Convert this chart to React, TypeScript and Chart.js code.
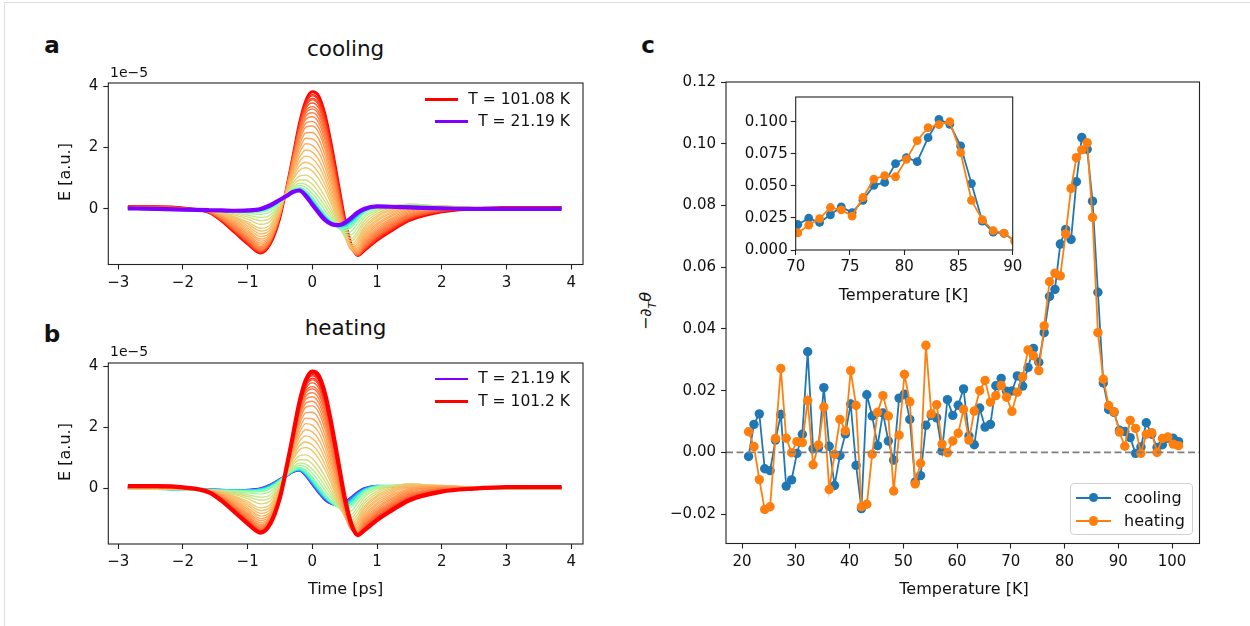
import React, { useEffect, useRef } from "react";
import { Chart, registerables } from "chart.js";

Chart.register(...registerables);

// ---------------- data: panels a / b (waveforms, E in units of 1e-5) ----------------
const WAVE_T = [-2.85, -2.4, -2.0, -1.6, -1.4, -1.2, -1.0, -0.8, -0.65, -0.5, -0.4, -0.3, -0.2, -0.1, 0.0, 0.1, 0.2, 0.3, 0.4, 0.5, 0.6, 0.7, 0.8, 1.0, 1.2, 1.5, 2.0, 2.5, 3.0, 3.4, 3.85];

const E_021 = [0.02, 0.0, -0.02, -0.04, -0.05, -0.06, -0.05, 0.0, 0.12, 0.3, 0.42, 0.55, 0.6, 0.42, 0.14, -0.13, -0.37, -0.5, -0.53, -0.45, -0.29, -0.12, 0.0, 0.08, 0.07, 0.05, 0.02, 0.0, 0.0, 0.0, 0.0];
const E_028 = [0.02, 0.0, -0.02, -0.04, -0.05, -0.06, -0.05, -0.01, 0.11, 0.3, 0.42, 0.55, 0.6, 0.43, 0.16, -0.11, -0.35, -0.49, -0.54, -0.47, -0.31, -0.14, -0.01, 0.08, 0.07, 0.05, 0.02, 0.0, 0.0, 0.0, 0.0];
const E_035 = [0.02, 0.0, -0.02, -0.04, -0.05, -0.06, -0.06, -0.02, 0.1, 0.29, 0.42, 0.56, 0.61, 0.45, 0.18, -0.09, -0.33, -0.48, -0.54, -0.49, -0.34, -0.16, -0.03, 0.08, 0.07, 0.06, 0.02, 0.0, 0.0, 0.0, 0.0];
const E_042 = [0.01, -0.01, -0.02, -0.04, -0.05, -0.06, -0.07, -0.03, 0.08, 0.28, 0.42, 0.57, 0.62, 0.48, 0.22, -0.06, -0.3, -0.47, -0.55, -0.52, -0.38, -0.19, -0.04, 0.08, 0.08, 0.07, 0.02, 0.0, 0.0, 0.0, 0.0];
const E_050 = [0.01, -0.01, -0.02, -0.04, -0.06, -0.07, -0.07, -0.04, 0.06, 0.27, 0.43, 0.58, 0.64, 0.5, 0.25, -0.03, -0.28, -0.46, -0.57, -0.55, -0.42, -0.22, -0.06, 0.07, 0.08, 0.07, 0.03, 0.0, 0.0, 0.0, 0.0];
const E_058 = [0.0, -0.01, -0.03, -0.05, -0.07, -0.08, -0.09, -0.07, 0.03, 0.25, 0.44, 0.6, 0.67, 0.55, 0.32, 0.04, -0.23, -0.44, -0.6, -0.63, -0.51, -0.3, -0.1, 0.06, 0.09, 0.09, 0.04, 0.01, 0.0, 0.0, 0.0];
const E_065 = [0.0, -0.01, -0.03, -0.05, -0.07, -0.09, -0.1, -0.1, 0.0, 0.24, 0.45, 0.62, 0.7, 0.6, 0.38, 0.1, -0.18, -0.42, -0.62, -0.7, -0.6, -0.37, -0.14, 0.05, 0.09, 0.1, 0.04, 0.01, 0.0, 0.0, 0.0];
const E_068 = [0.0, -0.01, -0.03, -0.05, -0.07, -0.1, -0.14, -0.18, -0.09, 0.21, 0.46, 0.66, 0.76, 0.7, 0.5, 0.24, -0.06, -0.33, -0.6, -0.77, -0.73, -0.48, -0.22, 0.02, 0.09, 0.12, 0.05, 0.01, 0.0, 0.0, 0.0];
const E_072 = [0.0, -0.01, -0.03, -0.05, -0.08, -0.13, -0.2, -0.28, -0.2, 0.18, 0.47, 0.7, 0.83, 0.8, 0.63, 0.38, 0.07, -0.25, -0.58, -0.82, -0.85, -0.6, -0.3, -0.02, 0.08, 0.14, 0.06, 0.01, 0.0, 0.0, 0.0];
const E_074 = [0.0, -0.01, -0.02, -0.05, -0.09, -0.16, -0.26, -0.38, -0.3, 0.14, 0.48, 0.77, 0.94, 0.94, 0.8, 0.54, 0.22, -0.15, -0.53, -0.85, -0.96, -0.73, -0.4, -0.08, 0.06, 0.15, 0.07, 0.01, 0.0, 0.0, 0.0];
const E_076 = [0.0, 0.0, -0.02, -0.05, -0.1, -0.2, -0.33, -0.5, -0.4, 0.1, 0.5, 0.85, 1.07, 1.1, 0.98, 0.72, 0.38, -0.03, -0.48, -0.88, -1.05, -0.85, -0.5, -0.15, 0.03, 0.15, 0.08, 0.02, 0.0, 0.0, 0.0];
const E_078 = [0.0, 0.0, -0.01, -0.05, -0.12, -0.25, -0.42, -0.63, -0.52, 0.06, 0.52, 0.94, 1.26, 1.34, 1.23, 0.97, 0.6, 0.12, -0.41, -0.9, -1.14, -0.96, -0.6, -0.22, -0.02, 0.13, 0.09, 0.03, 0.01, 0.0, 0.0];
const E_079 = [0.01, 0.0, -0.01, -0.05, -0.13, -0.28, -0.48, -0.72, -0.6, 0.03, 0.53, 1.0, 1.4, 1.52, 1.42, 1.17, 0.76, 0.24, -0.35, -0.9, -1.2, -1.05, -0.67, -0.27, -0.06, 0.12, 0.1, 0.03, 0.01, 0.01, 0.01];
const E_080 = [0.01, 0.01, -0.01, -0.05, -0.15, -0.32, -0.55, -0.81, -0.68, 0.0, 0.55, 1.08, 1.54, 1.72, 1.64, 1.39, 0.95, 0.37, -0.27, -0.88, -1.25, -1.13, -0.75, -0.34, -0.11, 0.1, 0.1, 0.04, 0.02, 0.01, 0.01];
const E_081 = [0.02, 0.01, -0.01, -0.05, -0.17, -0.36, -0.62, -0.9, -0.76, -0.03, 0.57, 1.16, 1.68, 1.92, 1.85, 1.6, 1.13, 0.5, -0.2, -0.86, -1.28, -1.2, -0.82, -0.4, -0.16, 0.07, 0.09, 0.04, 0.02, 0.01, 0.01];
const E_082 = [0.02, 0.02, -0.01, -0.06, -0.19, -0.4, -0.68, -0.98, -0.82, -0.06, 0.59, 1.23, 1.82, 2.12, 2.07, 1.83, 1.33, 0.65, -0.11, -0.83, -1.31, -1.27, -0.89, -0.47, -0.22, 0.04, 0.08, 0.04, 0.02, 0.02, 0.02];
const E_083 = [0.02, 0.02, 0.0, -0.06, -0.21, -0.44, -0.74, -1.05, -0.87, -0.08, 0.6, 1.3, 1.95, 2.3, 2.28, 2.05, 1.52, 0.8, -0.03, -0.8, -1.32, -1.32, -0.95, -0.53, -0.27, 0.0, 0.07, 0.04, 0.02, 0.02, 0.02];
const E_084 = [0.03, 0.02, 0.0, -0.07, -0.23, -0.48, -0.8, -1.12, -0.91, -0.1, 0.62, 1.37, 2.08, 2.48, 2.49, 2.27, 1.71, 0.94, 0.06, -0.76, -1.32, -1.37, -1.01, -0.6, -0.33, -0.04, 0.05, 0.04, 0.03, 0.02, 0.02];
const E_085 = [0.03, 0.03, 0.0, -0.07, -0.25, -0.52, -0.85, -1.18, -0.95, -0.13, 0.63, 1.43, 2.2, 2.66, 2.7, 2.48, 1.9, 1.07, 0.14, -0.72, -1.32, -1.4, -1.06, -0.66, -0.38, -0.08, 0.04, 0.04, 0.03, 0.02, 0.02];
const E_086 = [0.04, 0.03, 0.01, -0.08, -0.27, -0.55, -0.89, -1.23, -0.98, -0.15, 0.64, 1.48, 2.29, 2.79, 2.85, 2.64, 2.05, 1.19, 0.22, -0.68, -1.31, -1.43, -1.11, -0.71, -0.43, -0.12, 0.02, 0.03, 0.03, 0.03, 0.02];
const E_087 = [0.04, 0.04, 0.01, -0.08, -0.29, -0.58, -0.93, -1.27, -1.0, -0.17, 0.65, 1.52, 2.38, 2.92, 3.0, 2.8, 2.2, 1.3, 0.3, -0.64, -1.3, -1.45, -1.15, -0.75, -0.48, -0.16, 0.0, 0.03, 0.03, 0.03, 0.03];
const E_088 = [0.05, 0.04, 0.01, -0.08, -0.3, -0.61, -0.97, -1.3, -1.02, -0.19, 0.66, 1.56, 2.45, 3.02, 3.13, 2.94, 2.33, 1.4, 0.38, -0.6, -1.29, -1.47, -1.19, -0.79, -0.52, -0.19, -0.02, 0.02, 0.04, 0.04, 0.03];
const E_089 = [0.05, 0.05, 0.02, -0.09, -0.32, -0.64, -1.0, -1.33, -1.04, -0.2, 0.66, 1.6, 2.52, 3.12, 3.25, 3.07, 2.45, 1.5, 0.45, -0.56, -1.28, -1.48, -1.22, -0.83, -0.56, -0.22, -0.03, 0.02, 0.04, 0.04, 0.03];
const E_090 = [0.05, 0.05, 0.02, -0.09, -0.33, -0.66, -1.02, -1.35, -1.05, -0.21, 0.67, 1.63, 2.57, 3.19, 3.33, 3.16, 2.54, 1.58, 0.5, -0.53, -1.26, -1.49, -1.25, -0.86, -0.59, -0.25, -0.04, 0.01, 0.04, 0.04, 0.03];
const E_092 = [0.06, 0.06, 0.02, -0.1, -0.35, -0.69, -1.05, -1.37, -1.07, -0.22, 0.68, 1.66, 2.62, 3.27, 3.45, 3.28, 2.66, 1.68, 0.58, -0.48, -1.24, -1.5, -1.28, -0.9, -0.63, -0.28, -0.05, 0.01, 0.04, 0.04, 0.04];
const E_094 = [0.07, 0.07, 0.03, -0.11, -0.37, -0.71, -1.08, -1.39, -1.09, -0.23, 0.68, 1.69, 2.67, 3.34, 3.55, 3.38, 2.76, 1.78, 0.66, -0.43, -1.21, -1.51, -1.31, -0.94, -0.66, -0.31, -0.06, 0.0, 0.05, 0.05, 0.04];
const E_095 = [0.07, 0.07, 0.03, -0.11, -0.37, -0.72, -1.09, -1.4, -1.1, -0.24, 0.68, 1.7, 2.7, 3.38, 3.6, 3.44, 2.82, 1.83, 0.7, -0.4, -1.2, -1.52, -1.32, -0.96, -0.68, -0.32, -0.07, 0.0, 0.05, 0.05, 0.04];
const E_097 = [0.08, 0.07, 0.03, -0.12, -0.38, -0.74, -1.11, -1.41, -1.11, -0.25, 0.68, 1.71, 2.74, 3.44, 3.68, 3.52, 2.9, 1.91, 0.77, -0.35, -1.18, -1.52, -1.34, -0.99, -0.71, -0.34, -0.08, 0.0, 0.05, 0.05, 0.05];
const E_098 = [0.08, 0.07, 0.03, -0.12, -0.39, -0.75, -1.12, -1.42, -1.12, -0.26, 0.68, 1.72, 2.76, 3.47, 3.72, 3.57, 2.95, 1.95, 0.8, -0.33, -1.17, -1.52, -1.35, -1.0, -0.72, -0.35, -0.08, 0.0, 0.05, 0.05, 0.05];
const E_100 = [0.08, 0.08, 0.04, -0.12, -0.4, -0.76, -1.13, -1.43, -1.14, -0.28, 0.67, 1.73, 2.79, 3.52, 3.79, 3.65, 3.03, 2.02, 0.86, -0.3, -1.15, -1.52, -1.36, -1.02, -0.74, -0.37, -0.09, 0.0, 0.05, 0.05, 0.05];
const E_101 = [0.08, 0.08, 0.04, -0.12, -0.4, -0.77, -1.14, -1.44, -1.15, -0.29, 0.67, 1.73, 2.8, 3.54, 3.82, 3.68, 3.06, 2.05, 0.88, -0.29, -1.14, -1.52, -1.37, -1.03, -0.75, -0.38, -0.1, 0.0, 0.05, 0.05, 0.05];

const WAVE_TEMPS = [21.19, 28, 35, 42, 50, 58, 65, 68, 72, 74, 76, 78, 79, 80, 81, 82, 83, 84, 85, 86, 87, 88, 89, 90, 92, 94, 95, 97, 98, 100, 101.08];
const WAVES = [E_021, E_028, E_035, E_042, E_050, E_058, E_065, E_068, E_072, E_074, E_076, E_078, E_079, E_080, E_081, E_082, E_083, E_084, E_085, E_086, E_087, E_088, E_089, E_090, E_092, E_094, E_095, E_097, E_098, E_100, E_101];

const WAVE_X_TICKS = [-3, -2, -1, 0, 1, 2, 3, 4];
const WAVE_Y_TICKS = [0, 2, 4];

// ---------------- data: panel c ----------------
const T_K = [21.2, 22.2, 23.2, 24.2, 25.2, 26.2, 27.2, 28.2, 29.2, 30.2, 31.2, 32.2, 33.2, 34.2, 35.2, 36.2, 37.2, 38.2, 39.2, 40.2, 41.2, 42.2, 43.2, 44.2, 45.2, 46.2, 47.2, 48.2, 49.2, 50.2, 51.2, 52.2, 53.2, 54.2, 55.2, 56.2, 57.2, 58.2, 59.2, 60.2, 61.2, 62.2, 63.2, 64.2, 65.2, 66.2, 67.2, 68.2, 69.2, 70.2, 71.2, 72.2, 73.2, 74.2, 75.2, 76.2, 77.2, 78.2, 79.2, 80.2, 81.2, 82.2, 83.2, 84.2, 85.2, 86.2, 87.2, 88.2, 89.2, 90.2, 91.2, 92.2, 93.2, 94.2, 95.2, 96.2, 97.2, 98.2, 99.2, 100.2, 101.2];

const COOLING = [
  -0.0013, 0.0091, 0.0125, -0.0053, -0.0059, 0.004, 0.0123, -0.0109, -0.0089, -0.0003,
  0.0059, 0.0326, 0.0012, 0.0015, 0.021, 0.002, -0.0107, -0.001, 0.006, 0.0157,
  -0.0042, -0.0182, 0.0187, 0.0118, 0.0022, 0.0128, 0.0037, -0.0025, 0.0176, 0.0189,
  0.0107, -0.0096, -0.0075, 0.0088, 0.012, 0.0112, 0.0005, 0.0171, 0.012, 0.0153,
  0.0206, 0.0053, 0.0025, 0.0144, 0.0082, 0.0091, 0.0216, 0.024, 0.0198, 0.0199,
  0.0248, 0.0215, 0.0275, 0.0337, 0.0292, 0.0388, 0.0505, 0.0528, 0.0675, 0.0722,
  0.069, 0.0877, 0.102, 0.0982, 0.0814, 0.0519, 0.0225, 0.0139, 0.013, 0.0072,
  0.0068, 0.0048, -0.0003, 0.0018, 0.0096, 0.0059, 0.0016, 0.0025, 0.0046, 0.0046,
  0.0035,
];

const HEATING = [
  0.0067, 0.0019, -0.0088, -0.0185, -0.0176, 0.0045, 0.0272, 0.0046, -0.0001, 0.0035,
  0.0032, 0.0168, -0.004, 0.0024, 0.0147, -0.012, -0.0006, 0.0107, 0.007, 0.0265,
  0.0152, -0.0176, -0.0168, -0.0006, 0.013, 0.0184, 0.0118, -0.0125, 0.0056, 0.0253,
  0.0164, -0.0102, -0.0035, 0.0347, 0.0125, 0.0155, 0.0027, -0.0001, 0.0037, 0.0062,
  0.0139, 0.004, 0.0134, 0.02, 0.0233, 0.0163, 0.0184, 0.0217, 0.0179, 0.0133,
  0.0195, 0.0245, 0.0332, 0.0313, 0.0265, 0.041, 0.0553, 0.0581, 0.0572, 0.0708,
  0.0855, 0.0955, 0.098, 0.1003, 0.0761, 0.0388, 0.0237, 0.0152, 0.0132, 0.0066,
  0.002, 0.0104, 0.0078, -0.0003, 0.0059, 0.0064, 0.0, 0.0045, 0.005, 0.0027,
  0.0022,
];

const C_X_TICKS = [20, 30, 40, 50, 60, 70, 80, 90, 100];
const C_Y_TICKS = [-0.02, 0.0, 0.02, 0.04, 0.06, 0.08, 0.1, 0.12];
const INSET_X_TICKS = [70, 75, 80, 85, 90];
const INSET_Y_TICKS = [0.0, 0.025, 0.05, 0.075, 0.1];

// ---------------- styling helpers ----------------
const FONT = "'DejaVu Sans', sans-serif";
const BLUE = "#1f77b4";
const ORANGE = "#ff7f0e";

function rainbow(x: number): string {
  const r = Math.min(1, Math.abs(2 * x - 0.5));
  const g = Math.max(0, Math.sin(Math.PI * x));
  const b = Math.max(0, Math.cos((Math.PI * x) / 2));
  return `rgb(${Math.round(r * 255)},${Math.round(g * 255)},${Math.round(b * 255)})`;
}

function fmt(d: number) {
  return (v: number) => {
    const s = Math.abs(v).toFixed(d);
    return v < -1e-12 ? "\u2212" + s : s;
  };
}

type Geom = { cl: number; ct: number; cw: number; ch: number; al: number; at: number; ar: number; ab: number };

function axis(pos: "bottom" | "left", min: number, max: number, ticks: number[], f: (v: number) => string, size: number, fontSize: number, pad: number) {
  const horizontal = pos === "bottom";
  return {
    type: "linear",
    position: pos,
    min,
    max,
    afterBuildTicks: (s: any) => {
      s.ticks = ticks.map((v) => ({ value: v }));
    },
    afterFit: (s: any) => {
      if (horizontal) s.height = size;
      else s.width = size;
    },
    ticks: {
      callback: (v: any) => f(Number(v)),
      font: { family: FONT, size: fontSize },
      color: "#111",
      padding: pad,
      maxRotation: 0,
      minRotation: 0,
      autoSkip: false,
    },
    grid: {
      display: true,
      drawOnChartArea: false,
      drawTicks: true,
      tickLength: 5,
      tickWidth: 1.1,
      tickColor: "#222",
      color: "#222",
    },
    border: { display: false },
  };
}

const boxPlugin = {
  id: "box",
  beforeDatasetsDraw(chart: any, _a: any, opts: any) {
    if (!opts || !opts.fill) return;
    const { left, top, right, bottom } = chart.chartArea;
    const ctx = chart.ctx;
    ctx.save();
    ctx.fillStyle = "#fff";
    ctx.fillRect(left, top, right - left, bottom - top);
    ctx.restore();
  },
  afterDraw(chart: any) {
    const { left, top, right, bottom } = chart.chartArea;
    const ctx = chart.ctx;
    ctx.save();
    ctx.strokeStyle = "#222";
    ctx.lineWidth = 1.1;
    ctx.strokeRect(left, top, right - left, bottom - top);
    ctx.restore();
  },
};

function baseOptions(g: Geom, xAxis: any, yAxis: any, fillBox = false) {
  return {
    responsive: false,
    maintainAspectRatio: false,
    animation: false,
    devicePixelRatio: 1,
    events: [],
    layout: {
      autoPadding: false,
      padding: { left: 0, bottom: 0, top: g.at - g.ct, right: g.cl + g.cw - g.ar },
    },
    plugins: { legend: { display: false }, tooltip: { enabled: false }, title: { display: false }, box: { fill: fillBox } },
    scales: { x: xAxis, y: yAxis },
  };
}

function ChartCanvas({ g, make }: { g: Geom; make: () => any }) {
  const ref = useRef<HTMLCanvasElement>(null);
  useEffect(() => {
    const chart = new Chart(ref.current as HTMLCanvasElement, make());
    return () => chart.destroy();
  }, []);
  return (
    <canvas
      ref={ref}
      width={g.cw}
      height={g.ch}
      style={{ position: "absolute", left: g.cl, top: g.ct, width: g.cw, height: g.ch }}
    />
  );
}

// ---------------- geometry ----------------
const GEOM_A: Geom = { cl: 20, ct: 69, cw: 580, ch: 231, al: 108.3, at: 79, ar: 583, ab: 264.5 };
const GEOM_B: Geom = { cl: 20, ct: 349, cw: 580, ch: 231, al: 108.3, at: 359, ar: 583, ab: 544 };
const GEOM_C: Geom = { cl: 660, ct: 68, cw: 570, ch: 512, al: 726, at: 78.5, ar: 1199.5, ab: 543.5 };
const GEOM_I: Geom = { cl: 730, ct: 85, cw: 300, ch: 200, al: 795.7, at: 95, ar: 1012.7, ab: 250 };

const WAVE_XMIN = -3.153;
const WAVE_XMAX = 4.183;
const WAVE_YMIN = -1.81;
const WAVE_YMAX = 4.1;
const C_XMIN = 17.0;
const C_XMAX = 105.1;
const C_YMIN = -0.0295;
const C_YMAX = 0.12;

function waveConfig(g: Geom, heating: boolean) {
  const tMin = WAVE_TEMPS[0];
  const tMax = WAVE_TEMPS[WAVE_TEMPS.length - 1];
  const idx = WAVES.map((_, i) => i);
  // first dataset is drawn on top
  const orderIdx = heating ? idx.slice().reverse() : idx;
  const last = WAVES.length - 1;
  const datasets = orderIdx.map((i) => {
    const onTop = heating ? i === last : i === 0;
    const extreme = i === 0 || i === last;
    const cold = WAVE_TEMPS[i] < 60;
    return {
      data: WAVE_T.map((t, k) => ({ x: t, y: WAVES[i][k] })),
      borderColor: rainbow((WAVE_TEMPS[i] - tMin) / (tMax - tMin)),
      borderWidth: onTop ? 4.2 : extreme ? 2.6 : cold ? 2.4 : 1.4,
      pointRadius: 0,
      cubicInterpolationMode: "monotone",
      fill: false,
    };
  });
  return {
    type: "line",
    data: { datasets },
    options: baseOptions(
      g,
      axis("bottom", WAVE_XMIN, WAVE_XMAX, WAVE_X_TICKS, fmt(0), g.ct + g.ch - g.ab, 15, 4.5),
      axis("left", WAVE_YMIN, WAVE_YMAX, WAVE_Y_TICKS, fmt(0), g.al - g.cl, 15, 5)
    ),
    plugins: [boxPlugin],
  };
}

function mainConfig() {
  const g = GEOM_C;
  return {
    type: "line",
    data: {
      datasets: [
        {
          data: [{ x: C_XMIN, y: 0 }, { x: C_XMAX, y: 0 }],
          borderColor: "#7f7f7f",
          borderWidth: 1.8,
          borderDash: [7, 3.5],
          pointRadius: 0,
          order: 0,
        },
        {
          data: T_K.map((t, i) => ({ x: t, y: HEATING[i] })),
          borderColor: ORANGE,
          backgroundColor: ORANGE,
          pointBackgroundColor: ORANGE,
          pointBorderWidth: 0,
          pointRadius: 4.7,
          borderWidth: 1.8,
          order: 1,
        },
        {
          data: T_K.map((t, i) => ({ x: t, y: COOLING[i] })),
          borderColor: BLUE,
          backgroundColor: BLUE,
          pointBackgroundColor: BLUE,
          pointBorderWidth: 0,
          pointRadius: 4.7,
          borderWidth: 1.8,
          order: 2,
        },
      ],
    },
    options: baseOptions(
      g,
      axis("bottom", C_XMIN, C_XMAX, C_X_TICKS, fmt(0), g.ct + g.ch - g.ab, 15, 4.5),
      axis("left", C_YMIN, C_YMAX, C_Y_TICKS, fmt(2), g.al - g.cl, 15, 5)
    ),
    plugins: [boxPlugin],
  };
}

function insetConfig() {
  const g = GEOM_I;
  return {
    type: "line",
    data: {
      datasets: [
        {
          data: T_K.map((t, i) => ({ x: t, y: HEATING[i] })),
          borderColor: ORANGE,
          pointBackgroundColor: ORANGE,
          pointBorderWidth: 0,
          pointRadius: 4.4,
          borderWidth: 1.8,
          clip: 0,
          order: 1,
        },
        {
          data: T_K.map((t, i) => ({ x: t, y: COOLING[i] })),
          borderColor: BLUE,
          pointBackgroundColor: BLUE,
          pointBorderWidth: 0,
          pointRadius: 4.4,
          borderWidth: 1.8,
          clip: 0,
          order: 2,
        },
      ],
    },
    options: baseOptions(
      g,
      axis("bottom", 70, 90, INSET_X_TICKS, fmt(0), g.ct + g.ch - g.ab, 15, 3),
      axis("left", 0, 0.1195, INSET_Y_TICKS, fmt(3), g.al - g.cl, 15, 3),
      true
    ),
    plugins: [boxPlugin],
  };
}

// ---------------- text helpers ----------------
function Txt(props: { x: number; y: number; size?: number; bold?: boolean; family?: string; rotate?: boolean; left?: boolean; children: any }) {
  const { x, y, size = 16, bold = false, family = FONT, rotate = false, left = false, children } = props;
  return (
    <div
      style={{
        position: "absolute",
        left: x,
        top: y,
        transform: left ? "translate(0,-50%)" : `translate(-50%,-50%)${rotate ? " rotate(-90deg)" : ""}`,
        fontSize: size,
        fontFamily: family,
        fontWeight: bold ? 700 : 400,
        whiteSpace: "nowrap",
        lineHeight: 1,
        color: "#111",
      }}
    >
      {children}
    </div>
  );
}

function WaveLegend({ rightX, y0, entries }: { rightX: number; y0: number; entries: { color: string; label: string }[] }) {
  const rowH = 22.4;
  return (
    <div style={{ position: "absolute", right: 1250 - rightX, top: y0 - rowH / 2 }}>
      {entries.map((e, i) => (
        <div key={i} style={{ display: "flex", alignItems: "center", justifyContent: "flex-end", height: rowH }}>
          <div style={{ width: 33, height: 2.6, background: e.color, marginRight: 10 }} />
          <div style={{ fontFamily: FONT, fontSize: 15.5, lineHeight: 1, color: "#111", whiteSpace: "nowrap" }}>{e.label}</div>
        </div>
      ))}
    </div>
  );
}

function MainLegend() {
  const rows = [
    { color: BLUE, label: "cooling", y: 14 },
    { color: ORANGE, label: "heating", y: 37.3 },
  ];
  return (
    <div
      style={{
        position: "absolute",
        left: 1070,
        top: 482.7,
        width: 123.3,
        height: 52.3,
        boxSizing: "border-box",
        border: "1px solid #d0d0d0",
        borderRadius: 4,
        background: "rgba(255,255,255,0.85)",
      }}
    >
      {rows.map((r, i) => (
        <React.Fragment key={i}>
          <div style={{ position: "absolute", left: 5, top: r.y - 1, width: 35, height: 2, background: r.color }} />
          <div style={{ position: "absolute", left: 22.5 - 4.7, top: r.y - 4.7, width: 9.4, height: 9.4, borderRadius: "50%", background: r.color }} />
          <div style={{ position: "absolute", left: 53, top: r.y, transform: "translate(0,-50%)", fontFamily: FONT, fontSize: 16, lineHeight: 1, color: "#111" }}>{r.label}</div>
        </React.Fragment>
      ))}
    </div>
  );
}

export default function App() {
  const red = rainbow(1);
  const purple = rainbow(0);
  const letterFont = "'DejaVu Sans', sans-serif";
  return (
    <div style={{ position: "fixed", left: 0, top: 0, width: 1250, height: 626, background: "#fff", overflow: "hidden" }}>
      <div style={{ position: "absolute", left: 4, top: 2, width: 1260, height: 640, borderLeft: "1px solid #dedede", borderTop: "1px solid #dedede" }} />

      <ChartCanvas g={GEOM_A} make={() => waveConfig(GEOM_A, false)} />
      <ChartCanvas g={GEOM_B} make={() => waveConfig(GEOM_B, true)} />
      <ChartCanvas g={GEOM_C} make={mainConfig} />
      <ChartCanvas g={GEOM_I} make={insetConfig} />

      {/* panel letters */}
      <Txt x={52} y={45} size={23} bold family={letterFont}>a</Txt>
      <Txt x={52} y={334} size={23} bold family={letterFont}>b</Txt>
      <Txt x={648} y={45} size={23} bold family={letterFont}>c</Txt>

      {/* panel a */}
      <Txt x={345.6} y={48.5} size={21.5}>cooling</Txt>
      <Txt x={110} y={71.5} size={14} left>1e−5</Txt>
      <Txt x={65} y={172} rotate>E [a.u.]</Txt>
      <WaveLegend
        rightX={570}
        y0={99.3}
        entries={[
          { color: red, label: "T = 101.08 K" },
          { color: purple, label: "T = 21.19 K" },
        ]}
      />

      {/* panel b */}
      <Txt x={345.6} y={327.5} size={21.5}>heating</Txt>
      <Txt x={110} y={350.5} size={14} left>1e−5</Txt>
      <Txt x={65} y={451.5} rotate>E [a.u.]</Txt>
      <Txt x={345.6} y={589}>Time [ps]</Txt>
      <WaveLegend
        rightX={570}
        y0={379}
        entries={[
          { color: purple, label: "T = 21.19 K" },
          { color: red, label: "T = 101.2 K" },
        ]}
      />

      {/* panel c */}
      <Txt x={648} y={311} rotate>
        <span>−</span>
        <i>∂</i>
        <sub style={{ fontSize: 11 }}>
          <i>T</i>
        </sub>
        <i>θ</i>
      </Txt>
      <Txt x={964} y={589}>Temperature [K]</Txt>
      <Txt x={903.5} y={295}>Temperature [K]</Txt>
      <MainLegend />
    </div>
  );
}
